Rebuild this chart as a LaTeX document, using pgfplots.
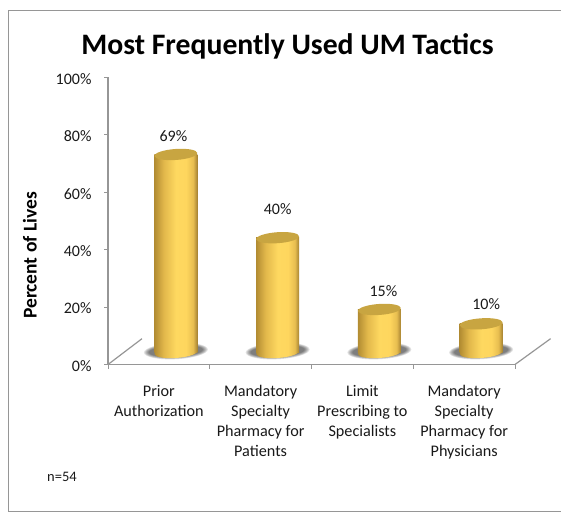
\documentclass[border=0pt]{standalone}
\usepackage{pgfplots}
\pgfplotsset{compat=1.18}
\usepackage{fontspec}
\setmainfont{Carlito}
\definecolor{axgray}{RGB}{150,150,150}
\definecolor{captop}{RGB}{200,165,65}
\definecolor{cA}{RGB}{178,140,50}
\definecolor{cB}{RGB}{226,184,75}
\definecolor{cC}{RGB}{254,216,96}
\definecolor{cD}{RGB}{254,214,94}
\definecolor{cE}{RGB}{232,190,80}
\definecolor{cF}{RGB}{165,130,50}
\pgfdeclarehorizontalshading{cyl}{100bp}{
 color(0bp)=(cA);
 color(25bp)=(cA);
 color(36bp)=(cB);
 color(50bp)=(cC);
 color(62bp)=(cD);
 color(70bp)=(cE);
 color(75bp)=(cF);
 color(100bp)=(cF)}
\pgfdeclareplotmark{capmark}{\pgftransformrotate{4}\pgfsetfillcolor{captop}\pgfsetstrokecolor{captop}\pgfpathellipse{\pgfpointorigin}{\pgfpoint{21.5pt}{0pt}}{\pgfpoint{0pt}{5.5pt}}\pgfusepath{fill}}
\pgfdeclareplotmark{basemark}{\pgftransformrotate{4}\pgfpathellipse{\pgfpointorigin}{\pgfpoint{21.5pt}{0pt}}{\pgfpoint{0pt}{5.5pt}}\pgfshadepath{cyl}{0}\pgfusepath{discard}}
\pgfdeclareplotmark{shadmark}{\pgftransformshift{\pgfpoint{0pt}{1.5pt}}\pgftransformrotate{3}\pgfsetfillcolor{black}\pgfsetfillopacity{0.11}%
\foreach \a/\b in {32/8.2,31/7.7,30/7.2,29/6.7,28/6.2,27/5.7}{\pgfpathellipse{\pgfpointorigin}{\pgfpoint{\a pt}{0pt}}{\pgfpoint{0pt}{\b pt}}\pgfusepath{fill}}}
\begin{document}
\begin{tikzpicture}[x=1pt,y=1pt]
\useasboundingbox (0,0) rectangle (561,513);
\begin{axis}[
 at={(108pt,148.5pt)}, anchor=south west, scale only axis,
 width=407pt, height=287pt,
 xmin=-0.5, xmax=3.5, ymin=0, ymax=100,
 clip=false, clip marker paths=true,
 axis x line*=bottom, axis y line*=left,
 axis line style={axgray,line width=1.3pt,-},
 xtick={-0.5,0.5,1.5,2.5,3.5}, xticklabels={},
 extra x ticks={0,1,2,3},
 extra x tick labels={Prior\\Authorization,Mandatory\\Specialty\\Pharmacy for\\Patients,Limit\\Prescribing to\\Specialists,Mandatory\\Specialty\\Pharmacy for\\Physicians},
 extra x tick style={major tick length=0pt,tick label style={align=center,font=\fontsize{16.2}{20}\selectfont,anchor=north,yshift=-17pt,color=black!90}},
 ytick={0,20,40,60,80,100},
 yticklabel={\pgfmathprintnumber{\tick}\%},
 /pgf/number format/assume math mode=true,
 tick style={axgray,line width=1pt},
 major tick length=4pt,
 tick align=outside,
 y tick label style={font=\fontsize{16}{18}\selectfont,color=black!90,xshift=-9pt,yshift=-1.5pt},
 ylabel={\textbf{Percent of Lives}},
 ylabel style={font=\fontsize{19.5}{22}\selectfont,at={(axis description cs:-0.1665,0.38)},anchor=south},
 title={\textbf{Most Frequently Used UM Tactics}},
 title style={font=\fontsize{29.7}{33}\selectfont,at={(axis description cs:0.441,1.032)},anchor=south},
]
\addplot[axgray,line width=1.2pt,forget plot] coordinates {(-0.5,0) (-0.166,9)};
\addplot[axgray,line width=1.2pt,forget plot] coordinates {(3.5,0) (3.85,9)};
\pgfplotsset{cyl/.style={yshift=12pt,xshift=17pt,forget plot},
 lab/.style={cyl,only marks,mark=capmark,nodes near coords={\pgfmathprintnumber{\pgfplotspointmeta}\%},point meta=y,
  nodes near coords style={font=\fontsize{16}{18}\selectfont,color=black!90,anchor=center,/pgf/number format/assume math mode=true}}}
\addplot[cyl,only marks,mark=shadmark] coordinates {(0,0) (1,0) (2,0) (3,0)};
\addplot[cyl,only marks,mark=basemark] coordinates {(0,0) (1,0) (2,0) (3,0)};
\addplot[cyl,ybar,bar width=43pt,bar shift=0pt,draw=none,shading=cyl] coordinates {(0,69)};
\addplot[cyl,ybar,bar width=43pt,bar shift=0pt,draw=none,shading=cyl] coordinates {(1,40)};
\addplot[cyl,ybar,bar width=43pt,bar shift=0pt,draw=none,shading=cyl] coordinates {(2,15)};
\addplot[cyl,ybar,bar width=43pt,bar shift=0pt,draw=none,shading=cyl] coordinates {(3,10)};
\addplot[lab,nodes near coords style={xshift=-2.5pt,yshift=18pt}] coordinates {(0,69)};
\addplot[lab,nodes near coords style={xshift=0pt,yshift=29pt}] coordinates {(1,40)};
\addplot[lab,nodes near coords style={xshift=4pt,yshift=18pt}] coordinates {(2,15)};
\addplot[lab,nodes near coords style={xshift=5pt,yshift=20pt}] coordinates {(3,10)};
\end{axis}
\node[anchor=west,inner sep=0pt,font=\fontsize{14.5}{15}\selectfont,color=black!90] at (47,36) {n=54};
\draw[axgray,line width=0.8pt] (561,502.5) -- (8.5,502.5) -- (8.5,1.5) -- (561,1.5);
\end{tikzpicture}
\end{document}
